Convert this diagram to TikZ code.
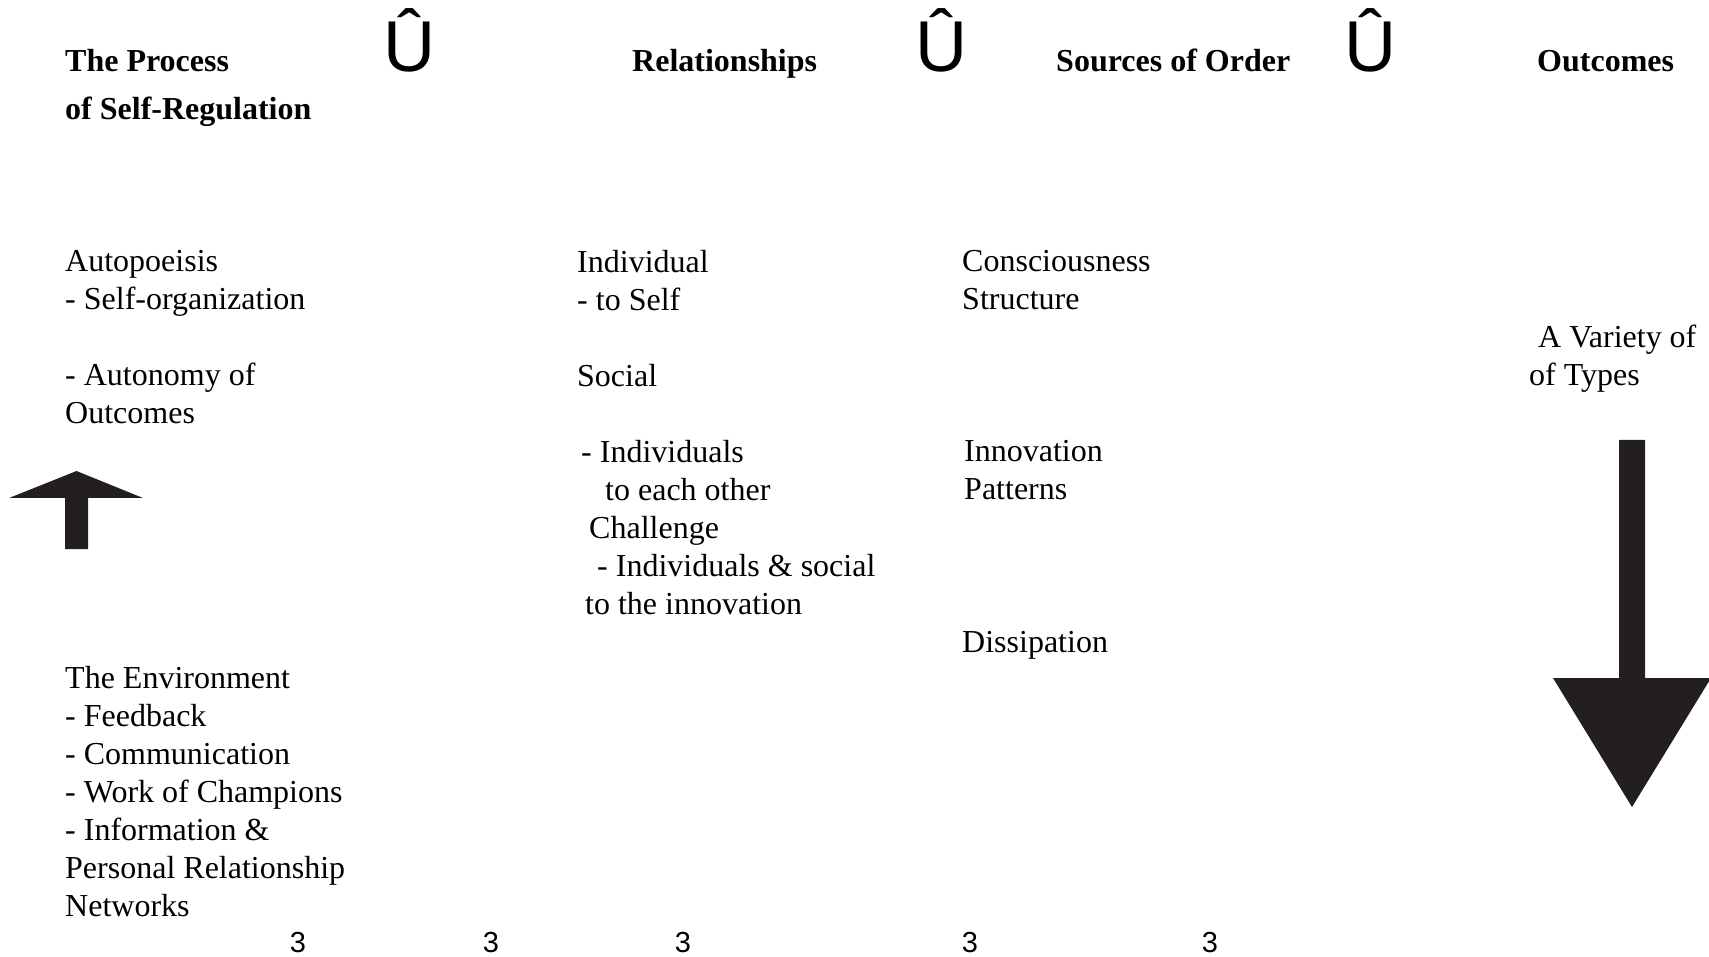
\documentclass[tikz,border=0pt]{standalone}
\usepackage{fontspec}
\setmainfont{Liberation Serif}
\newfontfamily\arialfont{Liberation Sans}
\definecolor{arrowink}{RGB}{35,31,32}
\newcommand{\bodyfont}{\fontsize{32}{38}\selectfont}
\newcommand{\headfont}{\fontsize{32}{48}\selectfont\bfseries}

\begin{document}
\begin{tikzpicture}[
x=1pt, y=-1pt,
txt/.style={anchor=base west, inner sep=0pt, align=left, font=\bodyfont},
head/.style={anchor=base west, inner sep=0pt, align=left, font=\headfont},
link/.style={anchor=base, inner sep=0pt, font=\arialfont\fontsize{72}{72}\selectfont},
num/.style={anchor=base, inner sep=0pt, font=\arialfont\fontsize{29}{29}\selectfont},
bigarrow/.style={fill=arrowink}
]
\useasboundingbox (0,0) rectangle (1709,957);

% column heads (multi-line nodes sit on their last baseline)
\node[head] (proc) at (65,120) {The Process\\of Self-Regulation};
\node[head] (rel) at (632,72) {Relationships};
\node[head] (src) at (1056,72) {Sources of Order};
\node[head] (out) at (1537,72) {Outcomes};
\foreach \x [count=\i] in {409,941,1370}
	\node[link] (u\i) at (\x,72) {Û};

% first column
\node[txt] (auto) at (65,424) {Autopoeisis\\- Self-organization\\ \\- Autonomy of\\Outcomes};
\node[txt] (env) at (65,916) {The Environment\\- Feedback\\- Communication\\- Work of Champions\\- Information \&\\Personal Relationship\\Networks};

% second column
\node[txt] (indiv) at (577,614) {Individual\\- to Self\\ \\Social\\ \\\hspace*{4pt}- Individuals\\\hspace*{28pt}to each other\\\hspace*{12pt}Challenge\\\hspace*{20pt}- Individuals \& social\\\hspace*{8pt}to the innovation};

% third column
\node[txt] (cons) at (962,310) {Consciousness\\Structure};
\node[txt] (innov) at (964,500) {Innovation\\Patterns};
\node[txt] (diss) at (962,652) {Dissipation};

% last column
\node[txt] (variety) at (1529,386) {\hspace*{9pt}A Variety of\\of Types};

\foreach \x [count=\i] in {298,491,683,970,1210}
	\node[num] (n\i) at (\x,952) {3};

% block arrows
\fill[bigarrow] (65,549) -- (65,498) -- (9,498) -- (76.5,471) -- (143,498)
	-- (88,498) -- (88,549) -- cycle;
\fill[bigarrow] (1619,440) -- (1645,440) -- (1645,678) -- (1711,678)
	-- (1632,807) -- (1553,678) -- (1619,678) -- cycle;
\end{tikzpicture}
\end{document}
